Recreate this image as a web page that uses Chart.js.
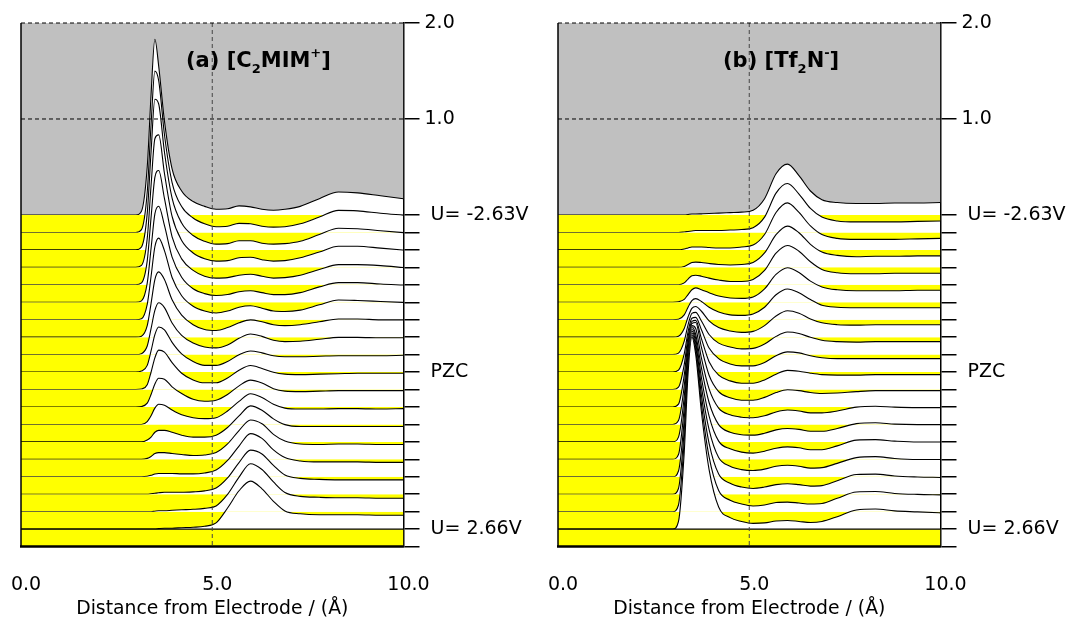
<!DOCTYPE html>
<html>
<head>
<meta charset="utf-8">
<script src="https://cdn.jsdelivr.net/npm/chart.js@4.4.1/dist/chart.umd.min.js"></script>
<style>
  html, body { margin: 0; padding: 0; background: #fff; }
  #wrap { position: relative; width: 1078px; height: 623px; }
  canvas { position: absolute; top: 0; }
  #cation { left: 0; }
  #anion { left: 537px; }
</style>
</head>
<body>
<div id="wrap">
  <canvas id="cation" width="539" height="623"></canvas>
  <canvas id="anion" width="539" height="623"></canvas>
</div>
<script>
// distance from the electrode (Å), shared by every profile
const distance = [0, 3.0, 3.15, 3.3, 3.4, 3.5, 3.6, 3.75, 3.95, 4.2, 4.5, 4.8, 5.1, 5.4, 5.7, 6.0, 6.3, 6.6, 6.9, 7.3, 7.8, 8.3, 8.8, 9.4, 10.0];

// C2MIM+ density profiles, from U = -2.63 V (first row) to U = 2.66 V (last row)
const cationRows = [
  [0, 0, 0.04, 0.50, 1.25, 1.83, 1.55, 0.98, 0.48, 0.25, 0.14, 0.09, 0.06, 0.065, 0.095, 0.085, 0.06, 0.05, 0.06, 0.09, 0.17, 0.24, 0.23, 0.20, 0.17],
  [0, 0, 0.03, 0.42, 1.12, 1.68, 1.58, 1.02, 0.52, 0.27, 0.15, 0.09, 0.06, 0.065, 0.095, 0.09, 0.065, 0.055, 0.06, 0.09, 0.16, 0.23, 0.225, 0.20, 0.18],
  [0, 0, 0.03, 0.38, 1.02, 1.57, 1.52, 1.02, 0.54, 0.28, 0.15, 0.09, 0.06, 0.065, 0.095, 0.095, 0.07, 0.06, 0.065, 0.09, 0.16, 0.225, 0.22, 0.20, 0.18],
  [0, 0, 0.02, 0.30, 0.85, 1.34, 1.38, 0.98, 0.53, 0.28, 0.15, 0.09, 0.065, 0.07, 0.10, 0.105, 0.08, 0.065, 0.07, 0.10, 0.16, 0.22, 0.22, 0.20, 0.18],
  [0, 0, 0.02, 0.25, 0.70, 1.12, 1.19, 0.90, 0.50, 0.27, 0.15, 0.09, 0.07, 0.075, 0.10, 0.11, 0.09, 0.07, 0.075, 0.10, 0.16, 0.21, 0.21, 0.20, 0.18],
  [0, 0, 0.015, 0.20, 0.56, 0.92, 1.00, 0.80, 0.47, 0.26, 0.14, 0.09, 0.07, 0.08, 0.11, 0.12, 0.10, 0.08, 0.08, 0.10, 0.16, 0.205, 0.205, 0.19, 0.18],
  [0, 0, 0.01, 0.16, 0.45, 0.76, 0.85, 0.72, 0.44, 0.25, 0.14, 0.09, 0.07, 0.09, 0.13, 0.145, 0.12, 0.09, 0.085, 0.10, 0.155, 0.205, 0.20, 0.19, 0.18],
  [0, 0, 0.01, 0.12, 0.35, 0.60, 0.68, 0.60, 0.39, 0.23, 0.13, 0.08, 0.07, 0.10, 0.15, 0.18, 0.16, 0.13, 0.12, 0.13, 0.16, 0.19, 0.19, 0.18, 0.18],
  [0, 0, 0.01, 0.09, 0.27, 0.46, 0.54, 0.49, 0.33, 0.20, 0.12, 0.08, 0.07, 0.10, 0.17, 0.215, 0.19, 0.15, 0.135, 0.14, 0.16, 0.18, 0.18, 0.175, 0.175],
  [0, 0, 0.01, 0.07, 0.22, 0.39, 0.47, 0.44, 0.31, 0.19, 0.11, 0.07, 0.07, 0.11, 0.18, 0.22, 0.20, 0.17, 0.16, 0.16, 0.165, 0.17, 0.17, 0.17, 0.175],
  [0, 0, 0.005, 0.05, 0.18, 0.33, 0.41, 0.39, 0.28, 0.17, 0.10, 0.07, 0.07, 0.12, 0.20, 0.25, 0.22, 0.18, 0.16, 0.155, 0.16, 0.165, 0.17, 0.17, 0.17],
  [0, 0, 0.005, 0.04, 0.13, 0.24, 0.30, 0.29, 0.21, 0.14, 0.08, 0.06, 0.07, 0.13, 0.22, 0.28, 0.25, 0.19, 0.165, 0.16, 0.165, 0.17, 0.17, 0.17, 0.17],
  [0, 0, 0, 0.03, 0.09, 0.17, 0.21, 0.20, 0.15, 0.10, 0.07, 0.06, 0.07, 0.14, 0.24, 0.32, 0.28, 0.21, 0.17, 0.16, 0.16, 0.165, 0.165, 0.16, 0.165],
  [0, 0, 0, 0.02, 0.05, 0.10, 0.12, 0.12, 0.10, 0.07, 0.05, 0.05, 0.07, 0.15, 0.27, 0.375, 0.33, 0.24, 0.18, 0.16, 0.16, 0.16, 0.16, 0.16, 0.16],
  [0, 0, 0, 0.01, 0.03, 0.06, 0.07, 0.07, 0.06, 0.05, 0.04, 0.045, 0.07, 0.16, 0.30, 0.41, 0.37, 0.26, 0.19, 0.16, 0.155, 0.16, 0.16, 0.155, 0.155],
  [0, 0, 0, 0.005, 0.015, 0.03, 0.035, 0.035, 0.035, 0.03, 0.03, 0.04, 0.07, 0.17, 0.32, 0.45, 0.40, 0.28, 0.20, 0.165, 0.155, 0.155, 0.155, 0.15, 0.15],
  [0, 0, 0, 0, 0.005, 0.01, 0.015, 0.02, 0.02, 0.02, 0.025, 0.035, 0.065, 0.17, 0.33, 0.46, 0.42, 0.30, 0.20, 0.165, 0.155, 0.15, 0.15, 0.15, 0.15],
  [0, 0, 0, 0, 0, 0.005, 0.01, 0.01, 0.015, 0.02, 0.025, 0.035, 0.06, 0.18, 0.36, 0.50, 0.44, 0.31, 0.20, 0.16, 0.15, 0.145, 0.145, 0.14, 0.14],
  [0, 0, 0, 0, 0, 0, 0.005, 0.01, 0.01, 0.015, 0.02, 0.03, 0.065, 0.22, 0.40, 0.50, 0.42, 0.29, 0.19, 0.16, 0.15, 0.15, 0.15, 0.145, 0.145]
];

// Tf2N- density profiles, same potentials
const anionRows = [
  [0, 0, 0, 0, 0.005, 0.01, 0.01, 0.012, 0.015, 0.02, 0.025, 0.03, 0.05, 0.17, 0.43, 0.53, 0.41, 0.25, 0.16, 0.13, 0.12, 0.12, 0.125, 0.125, 0.13],
  [0, 0, 0, 0.005, 0.01, 0.015, 0.02, 0.02, 0.02, 0.02, 0.025, 0.03, 0.05, 0.16, 0.41, 0.51, 0.40, 0.25, 0.16, 0.12, 0.11, 0.11, 0.11, 0.115, 0.12],
  [0, 0, 0, 0.01, 0.02, 0.03, 0.03, 0.03, 0.025, 0.02, 0.02, 0.03, 0.05, 0.16, 0.39, 0.49, 0.39, 0.25, 0.16, 0.12, 0.11, 0.11, 0.11, 0.115, 0.12],
  [0, 0, 0, 0.01, 0.03, 0.05, 0.055, 0.05, 0.04, 0.03, 0.025, 0.03, 0.05, 0.15, 0.34, 0.43, 0.36, 0.24, 0.16, 0.125, 0.11, 0.115, 0.115, 0.12, 0.12],
  [0, 0, 0, 0.02, 0.06, 0.095, 0.10, 0.09, 0.07, 0.05, 0.035, 0.035, 0.055, 0.15, 0.33, 0.41, 0.35, 0.24, 0.16, 0.125, 0.115, 0.115, 0.12, 0.12, 0.12],
  [0, 0, 0.005, 0.03, 0.08, 0.13, 0.15, 0.13, 0.10, 0.065, 0.045, 0.04, 0.055, 0.14, 0.29, 0.36, 0.31, 0.22, 0.16, 0.13, 0.12, 0.12, 0.12, 0.125, 0.125],
  [0, 0, 0.005, 0.05, 0.13, 0.20, 0.22, 0.19, 0.13, 0.08, 0.05, 0.045, 0.06, 0.13, 0.26, 0.32, 0.28, 0.21, 0.15, 0.13, 0.125, 0.125, 0.125, 0.125, 0.125],
  [0, 0, 0.01, 0.09, 0.21, 0.30, 0.32, 0.27, 0.17, 0.10, 0.065, 0.05, 0.06, 0.12, 0.22, 0.275, 0.25, 0.19, 0.15, 0.13, 0.125, 0.13, 0.13, 0.13, 0.13],
  [0, 0, 0.015, 0.14, 0.31, 0.43, 0.44, 0.35, 0.21, 0.12, 0.08, 0.06, 0.065, 0.11, 0.19, 0.235, 0.22, 0.18, 0.15, 0.135, 0.13, 0.135, 0.135, 0.135, 0.135],
  [0, 0, 0.02, 0.19, 0.42, 0.56, 0.57, 0.44, 0.25, 0.14, 0.085, 0.065, 0.065, 0.10, 0.17, 0.21, 0.20, 0.17, 0.15, 0.14, 0.14, 0.14, 0.14, 0.14, 0.14],
  [0, 0, 0.025, 0.26, 0.55, 0.71, 0.72, 0.53, 0.29, 0.15, 0.09, 0.065, 0.065, 0.10, 0.16, 0.20, 0.19, 0.17, 0.155, 0.15, 0.15, 0.155, 0.155, 0.155, 0.155],
  [0, 0, 0.03, 0.33, 0.68, 0.87, 0.88, 0.62, 0.33, 0.16, 0.095, 0.07, 0.07, 0.10, 0.15, 0.18, 0.17, 0.15, 0.14, 0.145, 0.16, 0.17, 0.17, 0.17, 0.17],
  [0, 0, 0.04, 0.40, 0.82, 1.03, 1.00, 0.69, 0.37, 0.17, 0.10, 0.075, 0.07, 0.09, 0.13, 0.15, 0.14, 0.12, 0.12, 0.14, 0.18, 0.19, 0.18, 0.175, 0.175],
  [0, 0, 0.05, 0.47, 0.96, 1.20, 1.12, 0.77, 0.41, 0.18, 0.10, 0.075, 0.07, 0.09, 0.125, 0.14, 0.13, 0.11, 0.11, 0.14, 0.19, 0.20, 0.185, 0.18, 0.18],
  [0, 0, 0.05, 0.54, 1.09, 1.36, 1.26, 0.85, 0.45, 0.19, 0.11, 0.075, 0.065, 0.085, 0.115, 0.13, 0.12, 0.10, 0.10, 0.14, 0.20, 0.205, 0.19, 0.18, 0.18],
  [0, 0, 0.06, 0.60, 1.22, 1.52, 1.40, 0.94, 0.49, 0.20, 0.11, 0.075, 0.065, 0.08, 0.11, 0.12, 0.11, 0.09, 0.095, 0.14, 0.20, 0.21, 0.19, 0.18, 0.18],
  [0, 0, 0.06, 0.67, 1.36, 1.68, 1.54, 1.03, 0.53, 0.21, 0.115, 0.075, 0.06, 0.075, 0.10, 0.11, 0.10, 0.085, 0.09, 0.14, 0.205, 0.21, 0.19, 0.18, 0.175],
  [0, 0, 0.07, 0.74, 1.49, 1.84, 1.68, 1.12, 0.57, 0.22, 0.12, 0.08, 0.06, 0.07, 0.095, 0.10, 0.09, 0.08, 0.085, 0.14, 0.205, 0.21, 0.19, 0.18, 0.175],
  [0, 0, 0.08, 0.80, 1.62, 2.00, 1.82, 1.22, 0.62, 0.23, 0.12, 0.08, 0.06, 0.065, 0.085, 0.09, 0.08, 0.07, 0.08, 0.13, 0.20, 0.21, 0.19, 0.18, 0.17]
];

const potentialLabels = [' U= -2.63V', '', '', '', '', '', '', '', '', ' PZC', '', '', '', '', '', '', '', '', ' U= 2.66V'];
const densityTicks = [2.0, 1.0];
const distanceTicks = [0, 5, 10];

const STEP = 0.1818;          // offset between two neighbouring potentials
const GREY = '#c0c0c0';
const YELLOW = '#ffff00';
const FONT = 'DejaVu Sans';

function buildDatasets(rows) {
  const sets = rows.map((row, i) => {
    const base = -i * STEP;
    const ds = {
      data: distance.map((x, k) => ({ x: x, y: row[k] + base })),
      borderColor: '#000',
      borderWidth: 1.1,
      pointRadius: 0,
      cubicInterpolationMode: 'monotone',
      order: rows.length - i
    };
    if (i === 0) {
      ds.fill = 'end';
      ds.backgroundColor = GREY;
      ds.order = 100;
    } else {
      // white where the profile rises above the previous baseline, yellow below it
      ds.fill = { target: { value: base + STEP }, above: '#ffffff', below: YELLOW };
    }
    return ds;
  });
  // closing band under the last profile
  const last = -(rows.length - 1) * STEP;
  sets.push({
    data: [{ x: 0, y: last }, { x: 10, y: last }],
    borderColor: '#000', borderWidth: 1.1, pointRadius: 0,
    fill: { target: { value: last - STEP }, above: YELLOW, below: YELLOW },
    order: 0
  });
  return sets;
}

function line(ctx, x1, y1, x2, y2) {
  ctx.beginPath();
  ctx.moveTo(x1, y1);
  ctx.lineTo(x2, y2);
  ctx.stroke();
}

const frame = {
  id: 'frame',
  afterDatasetsDraw(chart, args, opts) {
    const { ctx, chartArea: a, scales: { x, y } } = chart;
    ctx.save();
    ctx.lineWidth = 1;
    ctx.setLineDash([4, 3]);
    ctx.strokeStyle = '#444';
    const xm = x.getPixelForValue(5);
    line(ctx, xm, a.top, xm, a.bottom);
    ctx.strokeStyle = '#000';
    const y1 = y.getPixelForValue(1);
    line(ctx, a.left, y1, a.right, y1);
    line(ctx, a.left, a.top, a.right, a.top);
    ctx.setLineDash([]);
    ctx.lineWidth = 1.5;
    line(ctx, a.left, a.top, a.left, a.bottom);
    ctx.lineWidth = 2.5;
    line(ctx, a.left - 1, a.bottom, a.right, a.bottom);

    // panel heading with sub/superscripts
    ctx.fillStyle = '#000';
    ctx.textBaseline = 'alphabetic';
    let cx = a.left + 165;
    const by = 67;
    opts.parts.forEach(p => {
      const small = p.sub || p.sup;
      ctx.font = 'bold ' + (small ? 13 : 21) + 'px "' + FONT + '"';
      const dy = p.sub ? 6 : (p.sup ? -10 : 0);
      ctx.fillText(p.t, cx, by + dy);
      cx += ctx.measureText(p.t).width;
    });
    ctx.restore();
  }
};

function makePanel(id, rows, parts) {
  const yValues = densityTicks.concat(potentialLabels.map((_, i) => -i * STEP), [-potentialLabels.length * STEP]);
  const yText = densityTicks.map(v => v.toFixed(1)).concat(potentialLabels, ['']);
  return new Chart(document.getElementById(id), {
    type: 'line',
    data: { datasets: buildDatasets(rows) },
    plugins: [frame],
    options: {
      responsive: false,
      animation: false,
      layout: { padding: { left: 21, top: 23, right: 0, bottom: 0 } },
      plugins: {
        legend: { display: false },
        tooltip: { enabled: false },
        frame: { parts: parts }
      },
      scales: {
        x: {
          type: 'linear',
          min: 0,
          max: 10,
          afterBuildTicks: axis => { axis.ticks = distanceTicks.map(v => ({ value: v })); },
          afterFit: axis => {
            axis.height = 76.4;
            axis.paddingLeft = 0;
            axis.paddingRight = 0;
          },
          grid: { display: false },
          border: { display: false },
          ticks: {
            padding: 19,
            labelOffset: 5,
            maxRotation: 0,
            color: '#000',
            font: { family: FONT, size: 19 },
            callback: v => v.toFixed(1)
          },
          title: {
            display: true,
            text: 'Distance from Electrode / (Å)',
            color: '#000',
            font: { family: FONT, size: 18.8 },
            padding: { top: 0, bottom: 3 }
          }
        },
        y: {
          type: 'linear',
          position: 'right',
          min: -potentialLabels.length * STEP,
          max: 2.0,
          afterBuildTicks: axis => { axis.ticks = yValues.map(v => ({ value: v })); },
          afterFit: axis => {
            axis.width = 135.5;
            axis.paddingTop = 0;
            axis.paddingBottom = 0;
          },
          grid: { drawOnChartArea: false, color: '#000', lineWidth: 1.5, tickLength: 16 },
          border: { color: '#000', width: 1.5 },
          ticks: {
            autoSkip: false,
            padding: 5,
            color: '#000',
            font: { family: FONT, size: 19 },
            callback: (v, i) => yText[i]
          }
        }
      }
    }
  });
}

makePanel('cation', cationRows, [
  { t: '(a) [C' }, { t: '2', sub: true }, { t: 'MIM' }, { t: '+', sup: true }, { t: ']' }
]);
makePanel('anion', anionRows, [
  { t: '(b) [Tf' }, { t: '2', sub: true }, { t: 'N' }, { t: '-', sup: true }, { t: ']' }
]);
</script>
</body>
</html>
